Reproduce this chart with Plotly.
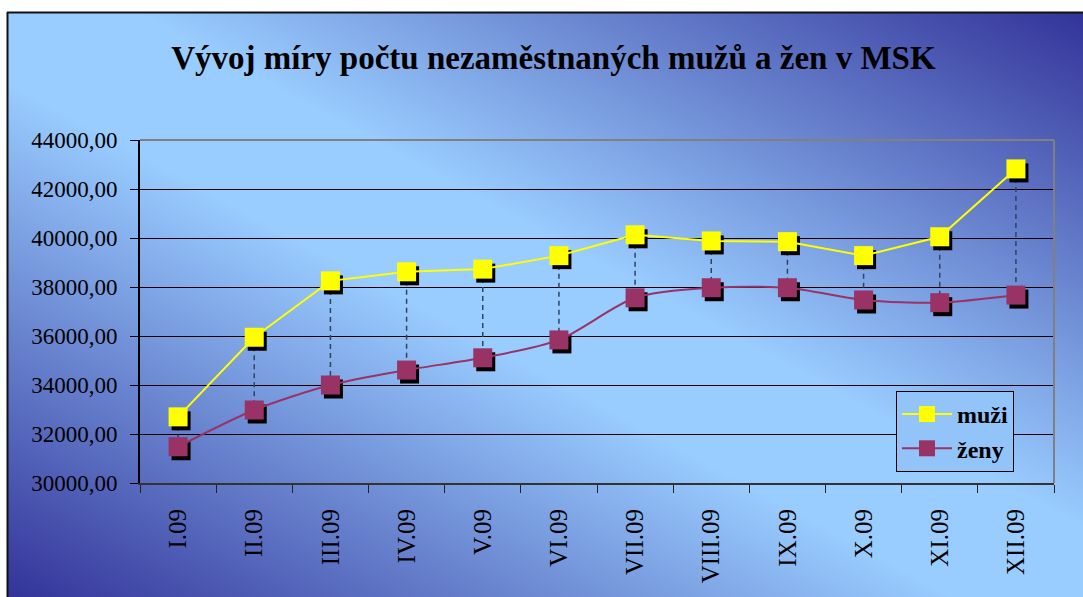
import base64
import plotly.graph_objects as go

months = ["I.09", "II.09", "III.09", "IV.09", "V.09", "VI.09",
          "VII.09", "VIII.09", "IX.09", "X.09", "XI.09", "XII.09"]
muzi = [32700, 35950, 38250, 38620, 38730, 39280,
        40130, 39880, 39850, 39280, 40050, 42820]
zeny = [31480, 32980, 34000, 34610, 35110, 35840,
        37560, 37970, 37970, 37470, 37360, 37670]
y_ticks = [30000, 32000, 34000, 36000, 38000, 40000, 42000, 44000]
title_text = "Vývoj míry počtu nezaměstnaných mužů a žen v MSK"

W, H = 1083, 597
L, R, T, B = 140, 29, 140, 114
PW, PH = W - L - R, H - T - B
YMIN, YMAX = 30000, 44000
XMIN, XMAX = -0.5, len(months) - 0.5

# shadow offsets in px -> data units
sdx = 3 * (XMAX - XMIN) / PW
sdy = 4 * (YMAX - YMIN) / PH

FONT = "Liberation Serif, Times New Roman, serif"
YELLOW = "#FFFF00"
PLUM = "#993366"

svg = (
    '<svg xmlns="http://www.w3.org/2000/svg" width="1076" height="585" preserveAspectRatio="none">'
    '<defs><linearGradient id="g" x1="0" y1="1" x2="1" y2="0">'
    '<stop offset="0" stop-color="rgb(51,51,153)"/>'
    '<stop offset="0.44" stop-color="rgb(153,204,255)"/>'
    '<stop offset="0.56" stop-color="rgb(153,204,255)"/>'
    '<stop offset="1" stop-color="rgb(51,51,153)"/>'
    '</linearGradient></defs>'
    '<rect x="0" y="0" width="1076" height="585" fill="url(#g)"/></svg>'
)
src = "data:image/svg+xml;base64," + base64.b64encode(svg.encode()).decode()


def px_x(px):
    return (px - L) / PW


def px_y(py):
    return (H - B - py) / PH


fig = go.Figure()

# drop lines (high-low) on the main axes
dx, dy = [], []
for m, a, b in zip(months, muzi, zeny):
    dx += [m, m, None]
    dy += [a, b, None]

fig.add_trace(go.Scatter(
    x=dx, y=dy, mode="lines",
    line=dict(color="#2E4460", width=1.5, dash="5px,4px"),
    showlegend=False, hoverinfo="skip"))

# shadows on offset axes
for vals in (muzi, zeny):
    fig.add_trace(go.Scatter(
        x=months, y=vals, mode="markers", xaxis="x2", yaxis="y2",
        marker=dict(symbol="square", size=19, color="black"),
        showlegend=False, hoverinfo="skip"))

fig.add_trace(go.Scatter(
    x=months, y=muzi, name="muži", mode="lines+markers", xaxis="x3", yaxis="y3",
    line=dict(color=YELLOW, width=2),
    marker=dict(symbol="square", size=19, color=YELLOW)))
fig.add_trace(go.Scatter(
    x=months, y=zeny, name="ženy", mode="lines+markers", xaxis="x3", yaxis="y3",
    line=dict(color=PLUM, width=2, shape="spline", smoothing=0.8),
    marker=dict(symbol="square", size=19, color=PLUM)))

hidden = dict(visible=False, showgrid=False, zeroline=False, fixedrange=True)

fig.update_layout(
    width=W, height=H,
    margin=dict(l=L, r=R, t=T, b=B),
    paper_bgcolor="white",
    plot_bgcolor="rgba(0,0,0,0)",
    font=dict(family=FONT, color="black"),
    separators=", ",
    title=dict(text="<b>" + title_text + "</b>", x=0.511, xanchor="center",
               y=1 - 57 / H, yanchor="middle",
               font=dict(family=FONT, size=33, color="black")),
    xaxis=dict(type="category", categoryorder="array", categoryarray=months,
               range=[XMIN, XMAX], showgrid=False, zeroline=False,
               showline=True, linecolor="#333333", linewidth=2,
               ticks="outside", ticklen=8, tickcolor="#222222",
               tickson="boundaries", tickangle=-90, ticklabelstandoff=14,
               tickfont=dict(family=FONT, size=25, color="black")),
    yaxis=dict(range=[YMIN, YMAX], tickvals=y_ticks, tickformat=".2f",
               showgrid=True, gridcolor="black", gridwidth=1,
               zeroline=False, showline=True, linecolor="black", linewidth=2,
               ticks="outside", ticklen=8, tickcolor="black",
               ticklabelstandoff=8,
               tickfont=dict(family=FONT, size=23, color="black")),
    xaxis2=dict(type="category", categoryorder="array", categoryarray=months,
                overlaying="x", range=[XMIN - sdx, XMAX - sdx], **hidden),
    yaxis2=dict(overlaying="y", range=[YMIN + sdy, YMAX + sdy], **hidden),
    xaxis3=dict(type="category", categoryorder="array", categoryarray=months,
                overlaying="x", range=[XMIN, XMAX], **hidden),
    yaxis3=dict(overlaying="y", range=[YMIN, YMAX], **hidden),
    legend=dict(x=px_x(896), y=px_y(391), xanchor="left", yanchor="top",
                bgcolor="rgb(146,196,249)", bordercolor="black", borderwidth=1,
                itemwidth=50,
                font=dict(family=FONT, size=24, color="black", weight="bold")),
    images=[dict(source=src, xref="paper", yref="paper",
                 x=px_x(7), y=px_y(12), sizex=(W - 7) / PW, sizey=(H - 12) / PH,
                 xanchor="left", yanchor="top", sizing="stretch", layer="below")],
    shapes=[
        dict(type="line", xref="paper", yref="paper", x0=0, x1=1, y0=1, y1=1,
             line=dict(color="#808080", width=2)),
        dict(type="line", xref="paper", yref="paper", x0=1, x1=1, y0=0, y1=1,
             line=dict(color="#808080", width=2)),
        dict(type="line", xref="paper", yref="paper", x0=px_x(7), x1=px_x(W + 5),
             y0=px_y(12.5), y1=px_y(12.5), line=dict(color="#111111", width=2)),
        dict(type="line", xref="paper", yref="paper", x0=px_x(7.5), x1=px_x(7.5),
             y0=px_y(12), y1=px_y(H + 5), line=dict(color="#111111", width=2)),
    ],
)

fig.write_html("out.html", config={"displayModeBar": False},
               post_script="document.body.style.margin='0';document.body.style.overflow='hidden';")
